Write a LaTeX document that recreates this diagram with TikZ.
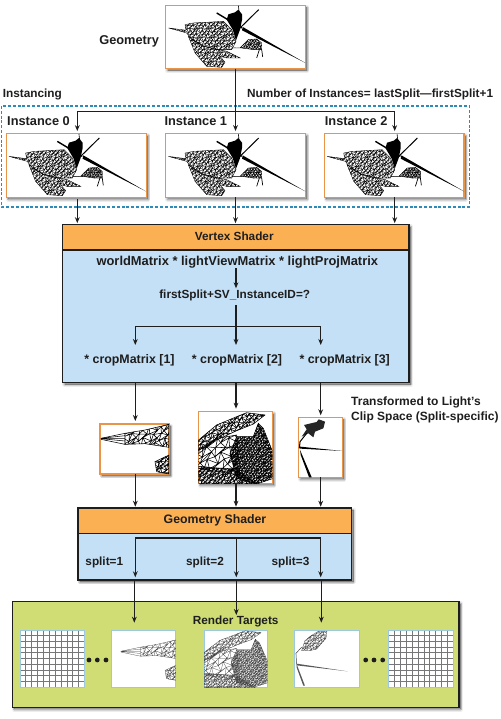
\documentclass[tikz,border=0pt]{standalone}
\usepackage{fontspec}
\setmainfont{Liberation Sans}
\usetikzlibrary{arrows.meta,calc}
\pgfdeclarelayer{shadowlayer}
\pgfsetlayers{shadowlayer,main}
\definecolor{ink}{HTML}{1E1E1E}
\definecolor{orangeedge}{HTML}{E8954A}
\definecolor{headfill}{HTML}{FBB054}
\definecolor{bodyfill}{HTML}{C4E0F6}
\definecolor{rtfill}{HTML}{CFDD74}
\definecolor{dashblue}{HTML}{2E8BB8}
\definecolor{rtedge}{HTML}{9CC8E4}
\definecolor{gridline}{HTML}{77777A}
\tikzset{
  imgbox/.style={draw=orangeedge,fill=white,line width=1.4pt,inner sep=0pt,outer sep=0pt},
  panel/.style={draw=ink,line width=1.1pt,inner sep=0pt,outer sep=0pt},
  rtimg/.style={draw=rtedge,fill=white,line width=1pt,inner sep=0pt,outer sep=0pt,minimum width=64.5pt,minimum height=57.3pt},
  lbl/.style={font=\fontsize{11.8}{13}\selectfont\bfseries,text=ink,inner sep=0pt,text height=8.6pt,text depth=2.4pt},
  lblb/.style={lbl,font=\fontsize{12.8}{13}\selectfont\bfseries},
  conn/.style={draw=ink,line width=1.1pt},
  arr/.style={conn,-{Stealth[length=6pt,width=4.8pt]}},
  wire/.style={draw=black,line width=.35pt},
}
\newcommand{\shadowof}[1]{%
  \begin{pgfonlayer}{shadowlayer}
    \foreach \w/\o in {4.5/.07,3/.10,1.5/.14}{%
      \draw[black,fill=black,opacity=\o,line width=\w pt,line join=round]
        ($(#1.north west)+(1.8,2)$) rectangle ($(#1.south east)+(1.8,2)$);}
  \end{pgfonlayer}}
% jittered triangle lattice inside a polygon: path, x0, y0, x1, y1, spacing
\newcommand{\meshblob}[6]{%
  \begin{scope}
    \clip #1;
    \pgfmathtruncatemacro\ni{(#4-#2)/#6+1}%
    \pgfmathtruncatemacro\nj{(#5-#3)/#6+1}%
    \foreach \i in {0,...,\ni}{%
      \foreach \j in {0,...,\nj}{%
        \pgfmathsetmacro\iB{\i+1}%
        \pgfmathsetmacro\jC{\j+1}%
        \pgfmathsetmacro\ax{#2+#6*(\i+.38*sin(97*\i+211*\j))}%
        \pgfmathsetmacro\ay{#3+#6*(\j+.38*cos(173*\i+59*\j))}%
        \pgfmathsetmacro\bx{#2+#6*(\iB+.38*sin(97*\iB+211*\j))}%
        \pgfmathsetmacro\by{#3+#6*(\j+.38*cos(173*\iB+59*\j))}%
        \pgfmathsetmacro\cx{#2+#6*(\i+.38*sin(97*\i+211*\jC))}%
        \pgfmathsetmacro\cy{#3+#6*(\jC+.38*cos(173*\i+59*\jC))}%
        \draw[wire] (\ax,\ay) -- (\bx,\by) -- (\cx,\cy) -- cycle;
      }}
  \end{scope}
  \draw[wire] #1;}
% whole model, coordinates are 3x pixels of a box with corner (17,17)
\newcommand{\turtle}[1]{%
  \begin{scope}[shift={(#1.north west)},x=.3333pt,y=-.3333pt,shift={(-17,-17)}]
    \meshblob{(25,85)--(78,92)--(75,75)--(100,70)--(140,68)--(190,65)--(215,90)--(228,125)--(215,150)--(170,150)--(130,140)--(95,120)--(80,100)--cycle}{20}{60}{235}{155}{9}
    \meshblob{(85,110)--(130,140)--(200,155)--(240,175)--(200,175)--(180,170)--(195,188)--(185,203)--(140,200)--(105,160)--cycle}{80}{105}{245}{205}{9}
    \meshblob{(215,145)--(240,145)--(265,120)--(290,118)--(305,130)--(305,150)--(280,150)--(245,145)--cycle}{210}{115}{310}{155}{6}
    \fill[black] (205,44)--(225,38)--(235,30)--(246,44)--(246,60)--(240,90)--(228,122)--(218,90)--(200,60)--cycle;
    \fill[black] (248,82)--(436,190)--(246,92)--cycle;
    \draw[black,line width=1.4pt] (170,40)--(245,85);
    \draw[black,line width=1pt] (296,30)--(240,85);
    \draw[black,line width=.6pt] (235,18)--(237,35);
    \draw[black,line width=.7pt] (298,150)--(290,175) (305,150)--(308,172);
  \end{scope}}
% crop 1: args node, x offset, y offset, x factor, y factor
\newcommand{\cropA}[5]{%
  \begin{scope}
    \clip (#1.north west) rectangle (#1.south east);
    \begin{scope}[shift={(#1.north west)},shift={(#2,#3)},x=#4*.3333pt,y=-#5*.3333pt,shift={(-15,-57)}]
      \draw[wire] (18,100)--(90,92) (18,101)--(90,108) (18,100.5)--(90,100);
      \meshblob{(90,85)--(150,75)--(222,58)--(222,127)--(150,116)--(90,118)--cycle}{85}{55}{225}{130}{16}
      \draw[wire] (18,100)--(90,85) (18,103)--(90,118);
      \meshblob{(180,170)--(222,150)--(222,207)--(185,200)--cycle}{178}{148}{225}{210}{11}
    \end{scope}
  \end{scope}}
% crop 2
\newcommand{\cropB}[5]{%
  \begin{scope}
    \clip (#1.north west) rectangle (#1.south east);
    \begin{scope}[shift={(#1.north west)},shift={(#2,#3)},x=#4*.3333pt,y=-#5*.3333pt,shift={(-445,-575)}]
      \meshblob{(440,665)--(500,615)--(560,590)--(590,578)--(645,585)--(610,612)--(560,632)--(500,660)--(440,705)--cycle}{435}{575}{650}{710}{11}
      \meshblob{(440,690)--(500,655)--(560,645)--(570,765)--(440,745)--cycle}{435}{640}{575}{770}{21}
      \meshblob{(440,738)--(560,750)--(625,795)--(440,795)--cycle}{435}{735}{630}{800}{9}
      \meshblob{(625,610)--(640,625)--(652,655)--(670,700)--(670,775)--(620,792)--(560,775)--(540,700)--(560,650)--(610,650)--cycle}{535}{605}{675}{795}{7}
      \draw[wire] (625,610)--(640,655);
    \end{scope}
  \end{scope}}
\begin{document}
\begin{tikzpicture}[x=1pt,y=-1pt]
\useasboundingbox (0,0) rectangle (500,719);

% top image and instances
\node[imgbox,minimum width=139.6pt,minimum height=63.4pt] (geom) at (235.5,37) {};
\draw[draw=dashblue,line width=1.2pt,dash pattern=on 3pt off 1.8pt] (1.7,106) rectangle (469.3,207);
\node[imgbox,minimum width=140pt,minimum height=63.6pt] (inst0) at (76.3,165.5) {};
\node[imgbox,minimum width=139.6pt,minimum height=63.6pt] (inst1) at (235.5,165.5) {};
\node[imgbox,minimum width=139.6pt,minimum height=63.6pt] (inst2) at (394.2,165.5) {};
\shadowof{geom}\shadowof{inst0}\shadowof{inst1}\shadowof{inst2}
\turtle{geom}\turtle{inst0}\turtle{inst1}\turtle{inst2}

\node[lblb] (geomlbl) at (129.2,41) {Geometry};
\node[lbl,anchor=west] (instlbl) at (2.7,94.3) {Instancing};
\node[lbl,anchor=west] (numlbl) at (247,94.3) {Number of Instances= lastSplit—firstSplit+1};
\node[lblb,anchor=west] (i0lbl) at (7,122.7) {Instance 0};
\node[lblb,anchor=west] (i1lbl) at (164.3,122.7) {Instance 1};
\node[lblb,anchor=west] (i2lbl) at (324.7,122.7) {Instance 2};

\coordinate (busL) at (77.3,111.3);
\coordinate (busR) at (394.7,111.3);
\draw[arr,shorten >=2.6pt] (geom.south) -- (inst1.north);
\draw[conn] (busL) -- (busR);
\draw[arr,shorten >=2.6pt] (busL) -- (busL |- inst0.north);
\draw[arr,shorten >=2.6pt] (busR) -- (busR |- inst2.north);

% vertex shader
\node[panel,fill=bodyfill,minimum width=346.3pt,minimum height=158pt] (vs) at (235.85,303.7) {};
\node[panel,fill=headfill,minimum width=346.3pt,minimum height=25.3pt] (vshead) at (235.85,237.35) {};
\shadowof{vs}
\node[lbl] (vstitle) at (234.3,237.7) {Vertex Shader};
\node[lbl,font=\fontsize{12.9}{13}\selectfont\bfseries] (mvp) at (237.3,262.3) {worldMatrix * lightViewMatrix * lightProjMatrix};
\node[lbl] (fs) at (234.7,295.3) {firstSplit+SV\_InstanceID=?};
\node[lbl,font=\fontsize{12.4}{13}\selectfont\bfseries] (cm1) at (129.5,360) {* cropMatrix [1]};
\node[lbl,font=\fontsize{12.4}{13}\selectfont\bfseries] (cm2) at (237,360) {* cropMatrix [2]};
\node[lbl,font=\fontsize{12.4}{13}\selectfont\bfseries] (cm3) at (344.7,360) {* cropMatrix [3]};

\draw[arr,shorten <=2pt,shorten >=1.5pt] (busL |- inst0.south) -- (busL |- vs.north);
\draw[arr,shorten >=1.5pt] (inst1.south) -- (inst1.south |- vs.north);
\draw[arr,shorten >=1.5pt] (busR |- inst2.south) -- (busR |- vs.north);

\coordinate (vsT) at (236,268);
\coordinate (vsB) at (236,305);
\coordinate (vsL) at (135.3,326.7);
\coordinate (vsR) at (320.7,326.7);
\draw[arr] (vsT) -- (236,288.3);
\draw[arr] (vsB) -- (236,345);
\draw[conn] (vsL) -- (vsR);
\draw[arr] (vsL) -- (135.3,345);
\draw[arr] (vsR) -- (320.7,345);

% crops
\node[imgbox,minimum width=69pt,minimum height=50pt] (crop1) at (134.5,449) {};
\node[imgbox,minimum width=74pt,minimum height=71.6pt] (crop2) at (235.3,447.5) {};
\node[imgbox,minimum width=43.6pt,minimum height=60pt] (crop3) at (320.5,447.3) {};
\shadowof{crop1}\shadowof{crop2}\shadowof{crop3}
\begin{scope}[wire/.style={draw=black,line width=.55pt}]
  \cropA{crop1}{0}{0}{1}{1}
  \cropB{crop2}{0}{0}{1}{1}
\end{scope}
\begin{scope}
  \clip (crop3.north west) rectangle (crop3.south east);
  \begin{scope}[shift={(crop3.north west)},x=.3333pt,y=-.3333pt,shift={(-746,-592)}]
    \fill[black!85] (762,615)--(800,606)--(806,598)--(825,605)--(820,625)--(795,635)--(790,652)--(775,640)--(755,650)--(770,628)--cycle;
    \draw[black,line width=1pt] (770,640)--(750,665)--(748,685);
    \fill[black] (750,680)--(877,693)--(750,686)--cycle;
    \fill[black] (750,690)--(785,772)--(777,772)--(752,705)--cycle;
  \end{scope}
\end{scope}
\node[lbl,anchor=west,font=\fontsize{12}{13}\selectfont\bfseries] (tl1) at (351,402.7) {Transformed to Light's};
\node[lbl,anchor=west,font=\fontsize{12}{13}\selectfont\bfseries] (tl2) at (351,417.7) {Clip Space (Split-specific)};

\draw[arr,shorten >=3pt] (vsL |- vs.south) -- (vsL |- crop1.north);
\draw[arr,shorten >=3pt] (vsB |- vs.south) -- (vsB |- crop2.north);
\draw[arr,shorten >=2pt] (vsR |- vs.south) -- (vsR |- crop3.north);

% geometry shader
\node[panel,fill=bodyfill,minimum width=273.7pt,minimum height=72pt] (gs) at (214.85,544) {};
\node[panel,fill=headfill,minimum width=273.7pt,minimum height=25.3pt] (gshead) at (214.85,520.65) {};
\shadowof{gs}
\node[lbl,font=\fontsize{12.3}{13}\selectfont\bfseries] (gstitle) at (215,520.3) {Geometry Shader};
\node[lbl] (s1) at (104.3,562.3) {split=1};
\node[lbl] (s2) at (205,562.3) {split=2};
\node[lbl] (s3) at (290.5,562.3) {split=3};
\draw[arr,shorten >=1.3pt] (vsL |- crop1.south) -- (vsL |- gs.north);
\draw[arr,shorten >=1.3pt] (vsB |- crop2.south) -- (vsB |- gs.north);
\draw[arr,shorten >=1.3pt] (vsR |- crop3.south) -- (vsR |- gs.north);

% render targets
\node[panel,fill=rtfill,minimum width=446.7pt,minimum height=105.6pt] (rt) at (235.65,654.5) {};
\shadowof{rt}
\node[rtimg] (g1) at (52.35,658.65) {};
\node[rtimg] (r1) at (143.35,658.65) {};
\node[rtimg,minimum width=63.3pt] (r2) at (235.65,658.65) {};
\node[rtimg] (r3) at (326.85,658.65) {};
\node[rtimg] (g2) at (421.15,658.65) {};
\foreach \g in {g1,g2}{%
  \foreach \i in {1,...,10}{\draw[gridline,line width=1pt] ($(\g.north west)+(\i*5.87,0.5)$) -- ($(\g.south west)+(\i*5.87,-0.5)$);}
  \foreach \i in {1,...,9}{\draw[gridline,line width=1pt] ($(\g.north west)+(0.5,\i*5.73)$) -- ($(\g.north east)+(-0.5,\i*5.73)$);}
}
\begin{scope}[wire/.style={draw=black!75,line width=.25pt}]
  \cropA{r1}{8.9}{9.5}{.82}{.82}
  \cropB{r2}{0}{0}{.856}{.79}
\end{scope}
\begin{scope}
  \clip (r3.north west) rectangle (r3.south east);
  \begin{scope}[shift={(r3.north west)},x=.3333pt,y=-.3333pt,shift={(-884,-420)},wire/.style={draw=black!75,line width=.25pt}]
    \meshblob{(915,452)--(935,436)--(955,424)--(981,424)--(978,445)--(950,477)--(930,482)--(905,482)--cycle}{900}{420}{985}{485}{8}
    \draw[black!75,line width=.5pt] (905,472)--(888,490)--(890,522);
    \fill[black!65] (890,521)--(1043,544)--(890,526)--cycle;
    \fill[black!65] (890,522)--(915,587)--(910,587)--(890,532)--cycle;
  \end{scope}
\end{scope}
\foreach \p in {89,97.3,106,365.7,374,382.7}{\fill[ink] (\p,660) circle (2.4);}

\node[lbl] (rtlbl) at (235.7,621) {Render Targets};
\coordinate (gsL) at (135.3,538);
\coordinate (gsM) at (236.3,538);
\coordinate (gsR) at (320.7,538);
\draw[conn] (gsL) -- (gsR);
\draw[arr] (gsL) -- (135.3,577.3);
\draw[arr] (gsM) -- (236.3,577.3);
\draw[arr] (gsR) -- (320.7,577.3);
\draw[arr] (134.3,580) -- (134.3,622.7);
\draw[arr] (236.3,580) -- (236.3,615);
\draw[arr] (321.3,580) -- (321.3,622.7);
\end{tikzpicture}
\end{document}
